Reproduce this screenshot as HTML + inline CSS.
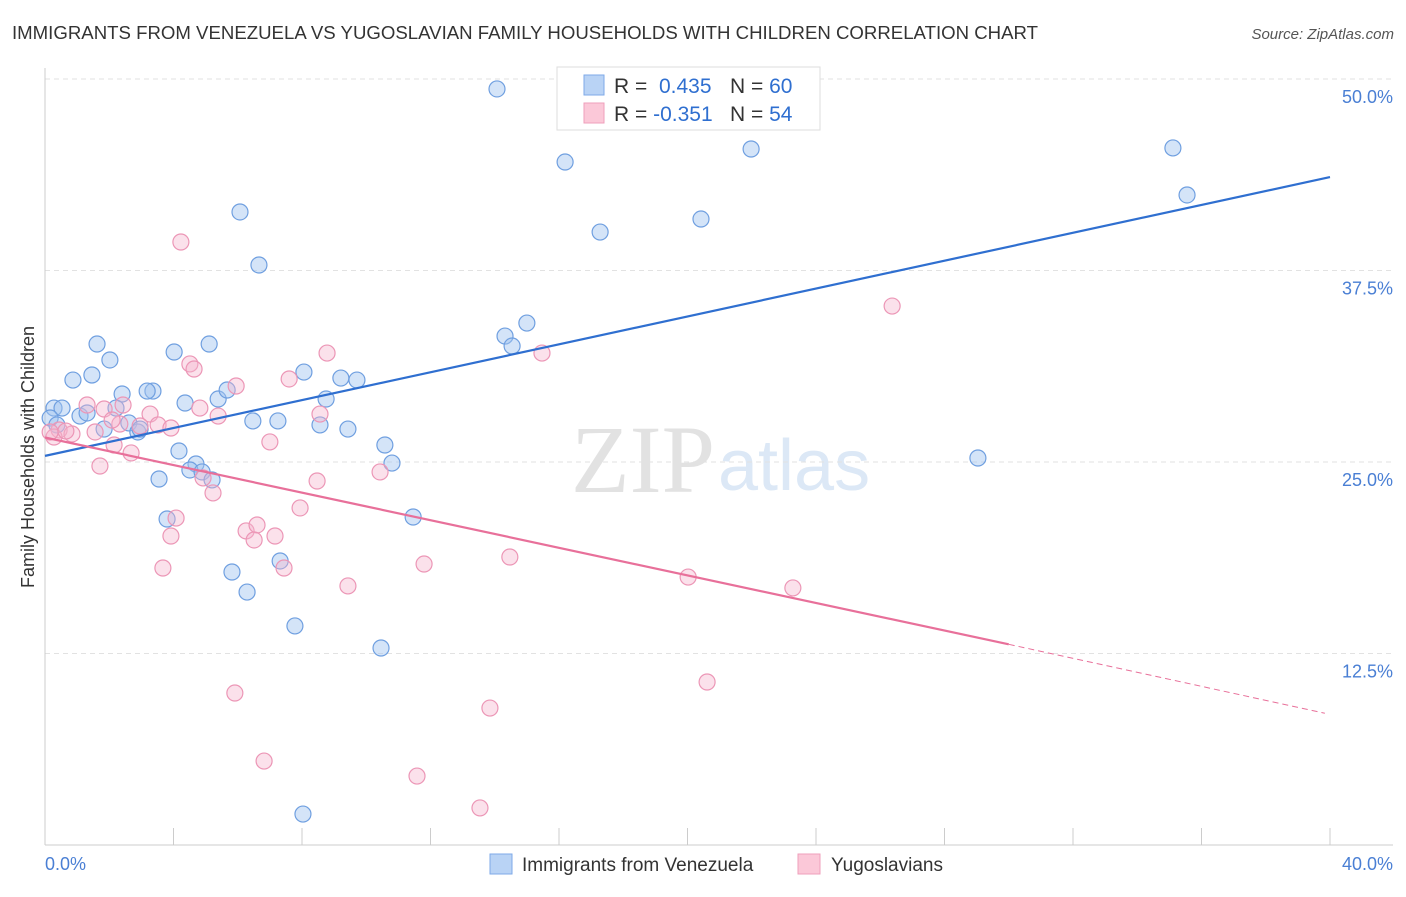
<!DOCTYPE html>
<html><head><meta charset="utf-8"><style>
body{margin:0;background:#fff;font-family:"Liberation Sans",sans-serif;}
svg text{font-family:"Liberation Sans",sans-serif;}
</style></head><body>
<svg id="chart" width="1406" height="892">
<text x="12" y="39" font-size="18" fill="#333" textLength="1026" lengthAdjust="spacingAndGlyphs">IMMIGRANTS FROM VENEZUELA VS YUGOSLAVIAN FAMILY HOUSEHOLDS WITH CHILDREN CORRELATION CHART</text>
<text x="1394" y="39" font-size="15" fill="#555" text-anchor="end" font-style="italic">Source: ZipAtlas.com</text>
<text x="715" y="492" font-size="96" fill="#e2e2e2" text-anchor="end" font-family="Liberation Serif" style="font-family:'Liberation Serif',serif">ZIP</text>
<text x="718" y="490" font-size="72" fill="#dce8f6">atlas</text>
<g id="grid"></g><g id="pts"></g><g id="lines"></g>
<text transform="translate(34,457) rotate(-90)" font-size="18" fill="#333" text-anchor="middle">Family Households with Children</text>
<text x="45" y="870" font-size="18" fill="#4a7fd4">0.0%</text>
<text x="1393" y="870" font-size="18" fill="#4a7fd4" text-anchor="end">40.0%</text>
<g>
<rect x="557" y="67" width="263" height="63" fill="#fff" stroke="#ddd"/>
<rect x="584" y="75" width="20" height="20" fill="#b9d3f5" stroke="#7eaae8"/>
<rect x="584" y="103" width="20" height="20" fill="#fbc8d8" stroke="#ef9fbb"/>
<text x="614" y="93" font-size="21" fill="#333">R = <tspan fill="#2f6fd0">&#160;0.435</tspan><tspan x="730">N = </tspan><tspan fill="#2f6fd0">60</tspan></text>
<text x="614" y="121" font-size="21" fill="#333">R = <tspan fill="#2f6fd0">-0.351</tspan><tspan x="730">N = </tspan><tspan fill="#2f6fd0">54</tspan></text>
</g>
<g>
<rect x="490" y="854" width="22" height="20" fill="#b9d3f5" stroke="#7eaae8"/>
<text x="522" y="871" font-size="19" fill="#333">Immigrants from Venezuela</text>
<rect x="798" y="854" width="22" height="20" fill="#fbc8d8" stroke="#ef9fbb"/>
<text x="831" y="871" font-size="19" fill="#333">Yugoslavians</text>
</g>
</svg>
<script>
const yTicks=[12.5,25,37.5,50];
const xTicks=[0,4,8,12,16,20,24,28,32,36,40];
const blueX=[14.07,16.19,21.98,35.11,35.55,6.07,17.28,20.42,6.66,14.32,15.0,14.54,1.62,2.02,4.02,5.11,0.87,1.46,3.36,3.18,2.40,4.36,5.39,5.67,8.06,9.21,9.71,8.75,0.28,0.53,1.09,1.31,2.21,2.61,1.84,2.89,2.96,6.47,7.25,8.56,9.43,10.58,10.80,4.17,4.70,4.51,4.89,5.20,3.55,29.04,3.80,11.46,7.32,5.82,6.29,7.78,10.46,8.03,0.16,0.37];
const blueY=[49.35,44.58,45.43,45.5,42.43,41.32,40.01,40.86,37.86,33.22,34.07,32.57,32.7,31.66,32.18,32.7,30.35,30.68,29.63,29.63,29.44,28.85,29.11,29.7,30.87,30.48,30.35,29.11,28.52,28.52,28.0,28.2,28.52,27.55,27.15,26.96,27.15,27.68,27.68,27.42,27.15,26.11,24.93,25.72,24.87,24.48,24.35,23.83,23.89,25.26,21.28,21.41,18.54,17.82,16.51,14.3,12.86,2.02,27.87,27.42];
const pinkX=[4.23,26.37,8.78,15.47,4.51,4.64,5.95,7.60,1.31,1.84,2.43,3.27,3.52,3.92,4.82,5.39,8.56,0.44,0.84,0.28,2.15,2.68,7.0,1.71,10.43,8.47,5.23,4.08,3.92,6.26,6.60,6.51,7.16,7.94,3.67,7.44,9.43,11.80,14.47,20.02,23.28,5.91,20.61,13.85,6.82,11.58,13.54,2.33,2.96,1.56,0.16,0.65,2.09,4.92];
const pinkY=[39.36,35.18,32.11,32.11,31.4,31.07,29.96,30.42,28.72,28.46,28.72,28.13,27.42,27.22,28.52,28.0,28.13,27.09,26.83,26.63,26.11,25.59,26.31,24.74,24.35,23.76,22.98,21.34,20.17,20.5,20.89,19.91,20.17,22.0,18.08,18.08,16.91,18.34,18.8,17.49,16.78,9.92,10.64,8.94,5.48,4.5,2.42,27.48,27.35,26.96,26.96,27.02,27.74,23.96];
const blueLine=[0,25.4,40,43.6];
const pinkLine=[0,26.6,30,13.1,39.84,8.6];
const sx=v=>45+v*32.125, sy=v=>845-v*15.32;
const NS='http://www.w3.org/2000/svg';
function mk(tag,at,parent){const e=document.createElementNS(NS,tag);for(const k in at)e.setAttribute(k,at[k]);document.getElementById(parent).appendChild(e);return e;}
yTicks.forEach(t=>{const l=mk('line',{x1:45,x2:1393,y1:sy(t),y2:sy(t),stroke:'#e2e2e2','stroke-dasharray':'5,4'},'grid');


const tx=mk('text',{x:1393,y:sy(t)+24,'font-size':18,fill:'#4a7fd4','text-anchor':'end'},'grid');tx.textContent=t.toFixed(1)+'%';

});
mk('line',{x1:45,x2:1393,y1:845,y2:845,stroke:'#ccc'},'grid');
mk('line',{x1:45,x2:45,y1:68,y2:845,stroke:'#ccc'},'grid');
xTicks.forEach(t=>{const l=mk('line',{x1:sx(t),x2:sx(t),y1:828,y2:845,stroke:'#ccc'},'grid');

});
blueX.forEach((x,i)=>{const c=mk('circle',{cx:sx(x),cy:sy(blueY[i]),r:8,fill:'rgba(160,195,240,0.45)',stroke:'#6f9fe0','stroke-width':1.2},'pts');

});
pinkX.forEach((x,i)=>{const c=mk('circle',{cx:sx(x),cy:sy(pinkY[i]),r:8,fill:'rgba(245,180,205,0.4)',stroke:'#ec96b6','stroke-width':1.2},'pts');

});
let b=mk('line',{x1:sx(blueLine[0]),y1:sy(blueLine[1]),x2:sx(blueLine[2]),y2:sy(blueLine[3]),stroke:'#2f6fd0','stroke-width':2.2},'lines');


let p=mk('line',{x1:sx(pinkLine[0]),y1:sy(pinkLine[1]),x2:sx(pinkLine[2]),y2:sy(pinkLine[3]),stroke:'#e8709a','stroke-width':2.2},'lines');


let pd=mk('line',{x1:sx(pinkLine[2]),y1:sy(pinkLine[3]),x2:sx(pinkLine[4]),y2:sy(pinkLine[5]),stroke:'#e8709a','stroke-width':1,'stroke-dasharray':'6,4'},'lines');


</script>
</body></html>
